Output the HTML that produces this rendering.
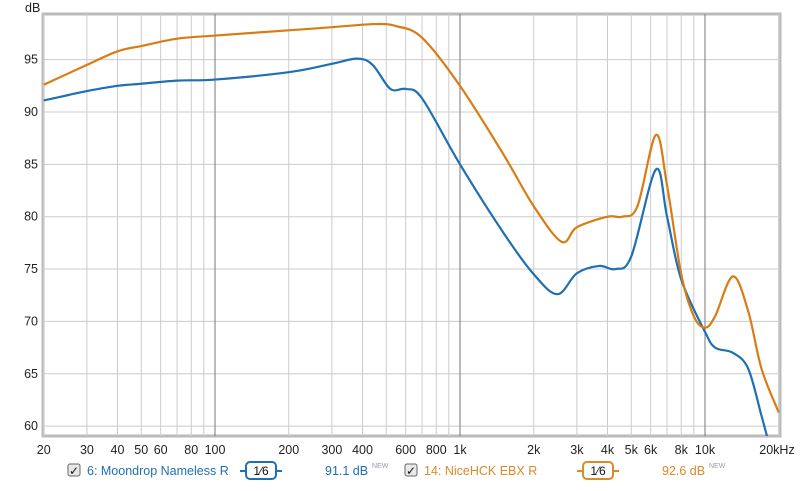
<!DOCTYPE html><html><head><meta charset="utf-8"><style>
body{margin:0;background:#fff;width:800px;height:486px;overflow:hidden;font-family:"Liberation Sans",sans-serif}
</style></head><body>
<svg id="s" width="800" height="486" xmlns="http://www.w3.org/2000/svg" font-family="Liberation Sans, sans-serif" font-size="12"></svg>
<script>
const s=document.getElementById('s');
const X=f=>460+245*Math.log10(f/1000), Y=d=>112+(90-d)*10.47;
let h='';
h+='<rect x="43" y="14" width="737" height="422" fill="#fff" stroke="#bbb" stroke-width="3"/>';
for(let d=60;d<=95;d+=5){h+=`<line x1="43" x2="780" y1="${Y(d)}" y2="${Y(d)}" stroke="#ccc"/>`;h+=`<text x="38" y="${Y(d)+4}" text-anchor="end" font-size="12.5" fill="#222">${d}</text>`;}
h+='<text x="25" y="12" font-size="12.5" fill="#222">dB</text>';
const fs=[];for(let dec of [10,100,1000,10000])for(let m=1;m<10;m++){let f=dec*m;if(f>=20&&f<=20000)fs.push(f);}fs.push(20000);
fs.forEach(f=>{let dark=(f==100||f==1000||f==10000);h+=`<line x1="${X(f)}" x2="${X(f)}" y1="14" y2="436" stroke="${dark?'#777':'#ccc'}"/>`;});
const lab={20:'20',30:'30',40:'40',50:'50',60:'60',80:'80',100:'100',200:'200',300:'300',400:'400',600:'600',800:'800',1000:'1k',2000:'2k',3000:'3k',4000:'4k',5000:'5k',6000:'6k',8000:'8k',10000:'10k'};
for(let f in lab)h+=`<text x="${X(+f)}" y="454" text-anchor="middle" font-size="12.5" fill="#222">${lab[f]}</text>`;
h+=`<text x="777" y="454" text-anchor="middle" font-size="12.5" fill="#222">20kHz</text>`;
function path(p,c){let pts=p.map(a=>[X(a[0]),Y(a[1])]);let d=`M${pts[0][0]},${pts[0][1]}`;
for(let i=0;i<pts.length-1;i++){let p0=pts[i-1]||pts[i],p1=pts[i],p2=pts[i+1],p3=pts[i+2]||p2;
d+=` C${p1[0]+(p2[0]-p0[0])/6},${p1[1]+(p2[1]-p0[1])/6} ${p2[0]-(p3[0]-p1[0])/6},${p2[1]-(p3[1]-p1[1])/6} ${p2[0]},${p2[1]}`;}
return `<path d="${d}" fill="none" stroke="${c}" stroke-width="2.2"/>`;}
const B=[[20,91.1],[25,91.6],[30,92],[40,92.5],[50,92.7],[70,93],[100,93.1],[200,93.8],[300,94.6],[380,95.1],[440,94.5],[520,92.2],[600,92.2],[700,91.3],[1000,85],[1500,78.5],[2000,74.5],[2500,72.6],[3000,74.6],[3700,75.3],[4300,75],[5000,76.2],[6300,84.5],[7000,80],[8000,74],[10000,69],[11000,67.5],[13000,67],[15000,65.5],[17000,61],[18400,58]];
const O=[[20,92.6],[30,94.5],[40,95.8],[50,96.3],[70,97],[100,97.3],[200,97.8],[300,98.1],[450,98.4],[550,98.2],[700,97.1],[1000,92.5],[1500,86],[2000,81],[2600,77.6],[3000,79],[4000,80],[4600,80],[5300,81],[6300,87.8],[7000,83],[8000,74.5],[9000,70.5],[10000,69.4],[11000,70.5],[13000,74.3],[15000,71],[17000,65.5],[20000,61.3]];
h+=`<svg x="43" y="14" width="737" height="422" viewBox="43 14 737 422">`+path(B,'#1f6fb4')+path(O,'#d97c14')+'</svg>';
function leg(x,name,c,val,bx,vx){let r='';
r+=`<rect x="${x}" y="464" width="12" height="12" rx="2" fill="#e8e8e8" stroke="#666"/><text x="${x+1}" y="475" font-size="12" fill="#111">✓</text>`;
r+=`<text x="${x+19}" y="475" font-size="12.5" fill="${c}">${name}</text>`;
r+=`<line x1="${bx-6}" x2="${bx+36}" y1="471" y2="471" stroke="${c}" stroke-width="2"/><rect x="${bx}" y="462" width="30" height="17" rx="4" fill="#fff" stroke="${c}" stroke-width="2"/><text x="${bx+15}" y="475" text-anchor="middle" font-size="12" fill="#111">1⁄6</text>`;
r+=`<text x="${vx}" y="475" font-size="12.5" fill="${c}">${val} dB</text><text x="${vx+47}" y="468" font-size="7" fill="#99a">NEW</text>`;return r;}
h+=leg(68,'6: Moondrop Nameless R','#1f6fb4','91.1',246,325);
h+=leg(405,'14: NiceHCK EBX R','#d98a2a','92.6',583,662);
s.innerHTML=h;
</script></body></html>
